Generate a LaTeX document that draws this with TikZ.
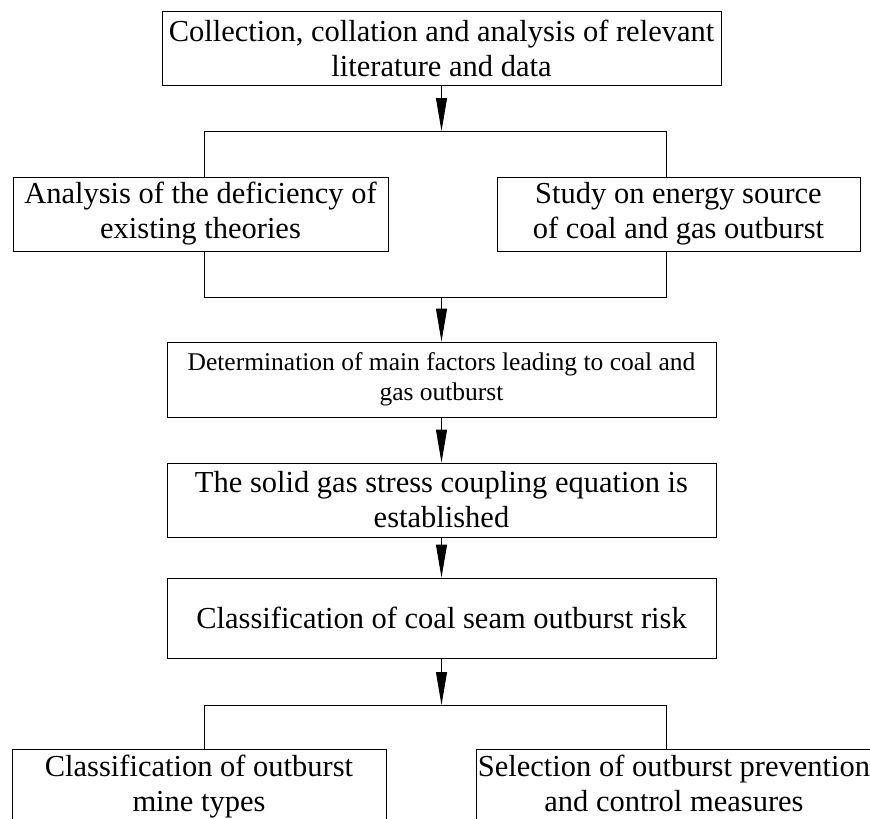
\documentclass[tikz,border=0pt]{standalone}
\usepackage{fontspec}
\setmainfont{Liberation Serif}
\usetikzlibrary{arrows.meta}

\tikzset{
  box/.style={draw, rectangle, inner sep=0pt, align=center,
    font=\fontsize{30.5}{35}\selectfont},
  arr/.style={-{Triangle[length=33pt,width=11pt]}}
}

\begin{document}
\begin{tikzpicture}[x=1pt,y=-1pt,line width=0.9pt]
  \clip (0,0) rectangle (870,819);

  \node[box, minimum width=559pt, minimum height=74pt] (top) at (441.5,48)
    {Collection, collation and analysis of relevant\\literature and data};

  \node[box, minimum width=375pt, minimum height=74pt] (ana) at (200.5,214)
    {Analysis of the deficiency of\\existing theories};
  \node[box, minimum width=363pt, minimum height=74pt] (src) at (678.5,214)
    {Study on energy source\\of coal and gas outburst};

  \node[box, minimum width=549pt, minimum height=75pt,
    font=\fontsize{25.5}{30}\selectfont] (det) at (441.5,379.5)
    {Determination of main factors leading to coal and\\gas outburst};
  \node[box, minimum width=549pt, minimum height=74pt] (eqn) at (441.5,500)
    {The solid gas stress coupling equation is\\established};
  \node[box, minimum width=549pt, minimum height=80pt] (cls) at (441.5,618)
    {Classification of coal seam outburst risk};

  \node[box, anchor=north, minimum width=374pt, inner ysep=6pt,
    text depth=40pt] (mine) at (199,749)
    {Classification of outburst\\mine types};
  \node[box, anchor=north, minimum width=396pt, inner ysep=6pt,
    text depth=40pt] (prev) at (674,749)
    {Selection of outburst prevention\\and control measures};

  \coordinate (bl1) at (204,131);
  \coordinate (br1) at (666,131);
  \coordinate (bl2) at (204,297);
  \coordinate (br2) at (666,297);
  \coordinate (bl3) at (204,705);
  \coordinate (br3) at (666,705);

  \draw[arr] (top.south) -- (top.south |- bl1);
  \draw (bl1 |- ana.north) -- (bl1) -- (br1) -- (br1 |- src.north);

  \draw (bl1 |- ana.south) -- (bl2) -- (br2) -- (br1 |- src.south);
  \draw[arr] (det.north |- bl2) -- (det.north);

  \draw[arr] (det.south) -- (eqn.north);
  \draw[arr] (eqn.south) -- (cls.north);

  \draw[arr] (cls.south) -- (cls.south |- bl3);
  \draw (bl3 |- mine.north) -- (bl3) -- (br3) -- (br3 |- prev.north);
\end{tikzpicture}
\end{document}
